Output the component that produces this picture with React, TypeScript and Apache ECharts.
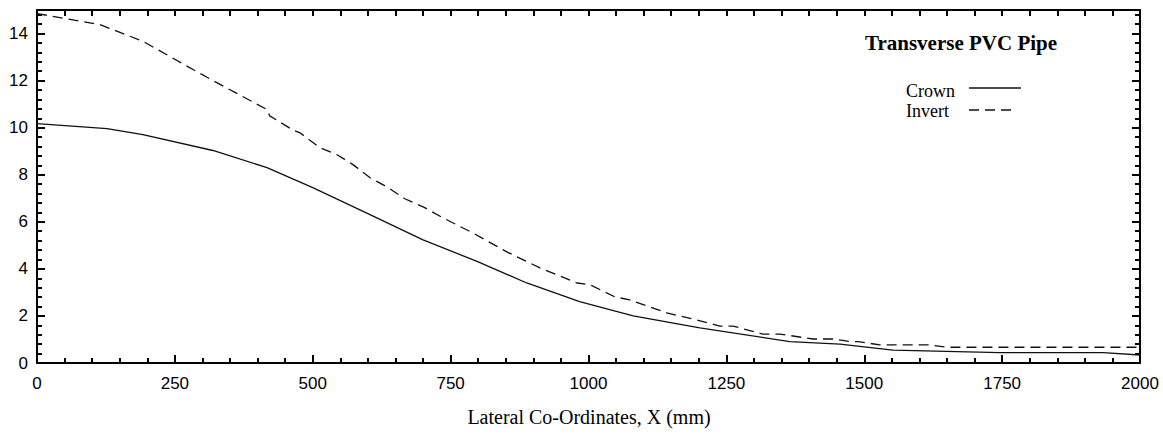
import React, { useEffect, useRef } from "react";
import * as echarts from "echarts";

const crown: [number, number][] = [
  [0, 10.17], [127, 9.96], [192, 9.7], [319, 9.03], [417, 8.3], [500, 7.45],
  [600, 6.35], [700, 5.23], [800, 4.3], [888, 3.4], [984, 2.61], [1081, 2.0],
  [1202, 1.49], [1365, 0.91], [1456, 0.8], [1552, 0.55], [1746, 0.44],
  [1933, 0.44], [2000, 0.34],
];

const invert: [number, number][] = [
  [0, 14.85], [114, 14.38], [192, 13.67], [283, 12.47], [319, 12.0], [417, 10.77],
  [422, 10.5], [464, 9.9], [477, 9.78], [513, 9.15], [544, 8.85], [573, 8.43],
  [604, 7.87], [634, 7.49], [667, 6.98], [703, 6.6], [736, 6.17], [790, 5.53],
  [852, 4.72], [912, 4.04], [979, 3.4], [1003, 3.32], [1048, 2.81], [1075, 2.68],
  [1142, 2.13], [1196, 1.83], [1238, 1.57], [1262, 1.57], [1316, 1.23],
  [1347, 1.23], [1407, 1.02], [1443, 1.02], [1474, 0.91], [1489, 0.91],
  [1528, 0.77], [1619, 0.77], [1650, 0.67], [2000, 0.67],
];

const chartTitle = "Transverse PVC Pipe";
const seriesNames = ["Crown", "Invert"];
const xAxisTitle = "Lateral Co-Ordinates, X (mm)";

export default function App() {
  const ref = useRef<HTMLDivElement>(null);
  useEffect(() => {
    if (!ref.current) return;
    const chart = echarts.init(ref.current, undefined, { renderer: "svg" });
    const black = "#000";
    const line = { show: true, onZero: false, lineStyle: { color: black, width: 2 } };
    const hidLine = { show: true, onZero: false, lineStyle: { color: black, width: 2, opacity: 0 } };
    const lbl = {
      fontFamily: "Liberation Sans",
      fontSize: 17,
      color: black,
    };
    const tick = (len: number) => ({
      show: true, inside: true, length: len, lineStyle: { color: black, width: 2 },
    });
    const xBase = { type: "value", min: 0, max: 2000, splitLine: { show: false } };
    const yBase = { type: "value", min: 0, max: 15, splitLine: { show: false } };
    chart.setOption({
      animation: false,
      backgroundColor: "#fff",
      grid: { left: 37, right: 23, top: 10, bottom: 73, containLabel: false },
      xAxis: [
        {
          ...xBase, position: "bottom", interval: 250, axisLine: line,
          axisTick: tick(8),
          axisLabel: { ...lbl, margin: 12, formatter: (v: number) => String(v) },
        },
        {
          ...xBase, position: "bottom", interval: 50, axisLine: hidLine,
          axisTick: tick(5),
          axisLabel: { show: false },
        },
        {
          ...xBase, position: "top", interval: 50, axisLine: line,
          axisTick: tick(6),
          axisLabel: { show: false },
        },
      ],
      yAxis: [
        {
          ...yBase, position: "left", interval: 2, axisLine: line,
          axisTick: tick(8),
          axisLabel: { ...lbl, margin: 9, formatter: (v: number) => (v % 2 === 0 ? String(v) : "") },
        },
        {
          ...yBase, position: "left", interval: 0.4, axisLine: hidLine,
          axisTick: tick(5),
          axisLabel: { show: false },
        },
        {
          ...yBase, position: "right", interval: 2, axisLine: line,
          axisTick: tick(8),
          axisLabel: { show: false },
        },
        {
          ...yBase, position: "right", interval: 0.4, axisLine: hidLine,
          axisTick: tick(5),
          axisLabel: { show: false },
        },
      ],
      series: [
        {
          name: seriesNames[0], type: "line", data: crown, showSymbol: false, symbol: "none",
          xAxisIndex: 0, yAxisIndex: 0,
          lineStyle: { color: "#111", width: 1.3, type: "solid" },
        },
        {
          name: seriesNames[1], type: "line", data: invert, showSymbol: false, symbol: "none",
          xAxisIndex: 0, yAxisIndex: 0,
          lineStyle: { color: "#111", width: 1.3, type: [10, 6] },
        },
      ],
      graphic: [
        {
          type: "text", x: 961, y: 43,
          style: {
            text: chartTitle, font: 'bold 21px "Liberation Serif"', fill: black,
            align: "center", verticalAlign: "middle",
          },
        },
        {
          type: "text", x: 906, y: 91,
          style: { text: seriesNames[0], font: '18px "Liberation Serif"', fill: black, align: "left", verticalAlign: "middle" },
        },
        {
          type: "line", shape: { x1: 969, y1: 88, x2: 1021, y2: 88 },
          style: { stroke: "#111", lineWidth: 1.3 },
        },
        {
          type: "text", x: 906, y: 111,
          style: { text: seriesNames[1], font: '18px "Liberation Serif"', fill: black, align: "left", verticalAlign: "middle" },
        },
        {
          type: "line", shape: { x1: 969, y1: 110, x2: 1014, y2: 110 },
          style: { stroke: "#111", lineWidth: 1.3, lineDash: [10, 6] },
        },
        {
          type: "text", x: 589, y: 417,
          style: { text: xAxisTitle, font: '20px "Liberation Serif"', fill: black, align: "center", verticalAlign: "middle" },
        },
      ],
    });
    return () => chart.dispose();
  }, []);
  return (
    <div
      ref={ref}
      style={{ position: "absolute", left: 0, top: 0, width: 1163, height: 436 }}
    />
  );
}
